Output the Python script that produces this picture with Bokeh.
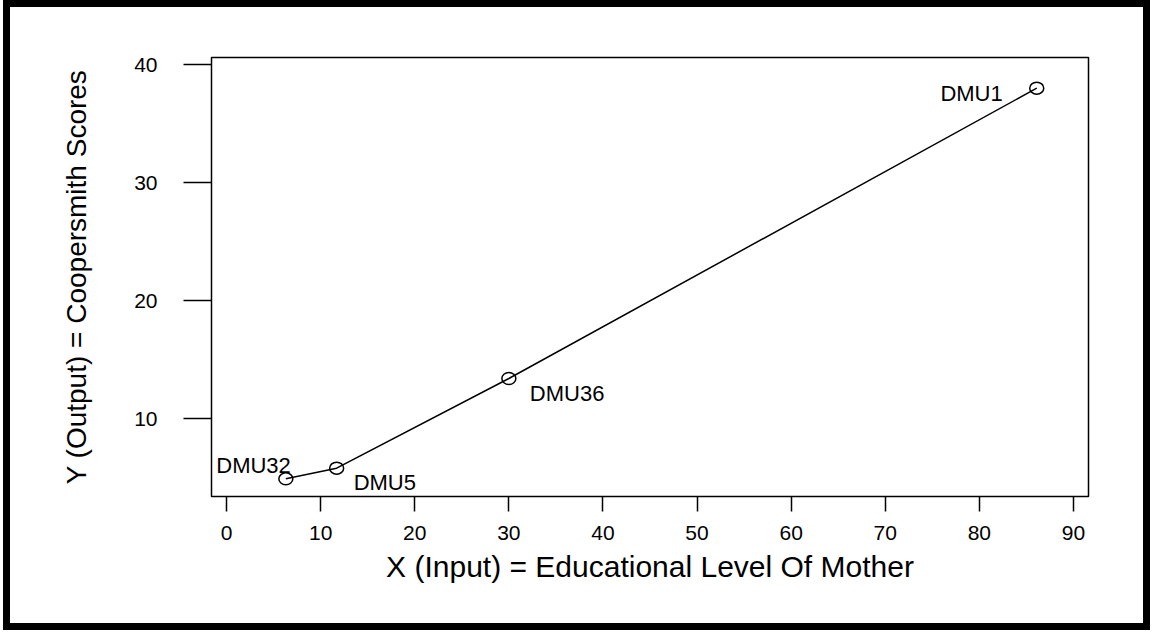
from bokeh.plotting import figure
from bokeh.models import ColumnDataSource, FixedTicker
from bokeh.core.properties import value
from bokeh.embed import file_html
from bokeh.resources import INLINE

# ---- data ----
dmu_names = ["DMU32", "DMU5", "DMU36", "DMU1"]
x_input = [6.3, 11.7, 30.0, 86.1]
y_output = [4.9, 5.8, 13.4, 38.0]
x_ticks = [0, 10, 20, 30, 40, 50, 60, 70, 80, 90]
y_ticks = [10, 20, 30, 40]
x_title = "X (Input) = Educational Level Of Mother"
y_title = "Y (Output) = Coopersmith Scores"

# label placement (screen px) per point: align, dx, dy
label_style = {
    "DMU32": ("right", 5, -13),
    "DMU5": ("left", 17, 14),
    "DMU36": ("left", 21, 15),
    "DMU1": ("right", -34, 5),
}

FONT = "Liberation Sans"

p = figure(width=1133, height=616, x_range=(-1.6, 91.6), y_range=(3.4, 40.6),
           output_backend="svg", toolbar_location=None,
           min_border_left=201, min_border_right=69, min_border_top=50, min_border_bottom=141)
p.styles = {"position": "absolute", "left": "3px", "top": "0px",
            "border": "7px solid black", "box-sizing": "content-box"}

p.background_fill_color = "white"
p.border_fill_color = "white"
p.outline_line_color = "black"
p.outline_line_width = 1.5
p.xgrid.visible = False
p.ygrid.visible = False

for ax in (p.xaxis[0], p.yaxis[0]):
    ax.axis_line_color = None
    ax.major_tick_in = 0
    ax.minor_tick_line_color = None
    ax.major_tick_line_color = "black"
    ax.major_tick_line_width = 1.5
    ax.major_label_text_font = FONT
    ax.major_label_text_font_size = "21px"
    ax.major_label_text_color = "black"
    ax.axis_label_text_font = FONT
    ax.axis_label_text_font_style = "normal"
    ax.axis_label_text_color = "black"

p.xaxis.axis_label_text_font_size = "30px"
p.yaxis.axis_label_text_font_size = "28px"
p.xaxis.ticker = FixedTicker(ticks=x_ticks)
p.yaxis.ticker = FixedTicker(ticks=y_ticks)
p.xaxis.major_tick_out = 15
p.yaxis.major_tick_out = 28
p.xaxis.major_label_standoff = 14
p.yaxis.major_label_standoff = 26
p.xaxis.axis_label = x_title
p.yaxis.axis_label = y_title
p.xaxis.axis_label_standoff = 7
p.yaxis.axis_label_standoff = 39

src = ColumnDataSource(dict(
    x=x_input, y=y_output, name=dmu_names,
    align=[label_style[n][0] for n in dmu_names],
    dx=[label_style[n][1] for n in dmu_names],
    dy=[label_style[n][2] for n in dmu_names],
))

p.line("x", "y", source=src, line_color="black", line_width=1.5)
p.ellipse("x", "y", width=14, height=12, width_units="screen", height_units="screen",
          source=src, fill_color=None, line_color="black", line_width=1.5)
p.text("x", "y", text="name", source=src, text_align="align", text_baseline="alphabetic",
       x_offset="dx", y_offset="dy", text_font=value(FONT), text_font_size="22px",
       text_color="black")

open("out.html", "w").write(file_html(p, INLINE))
